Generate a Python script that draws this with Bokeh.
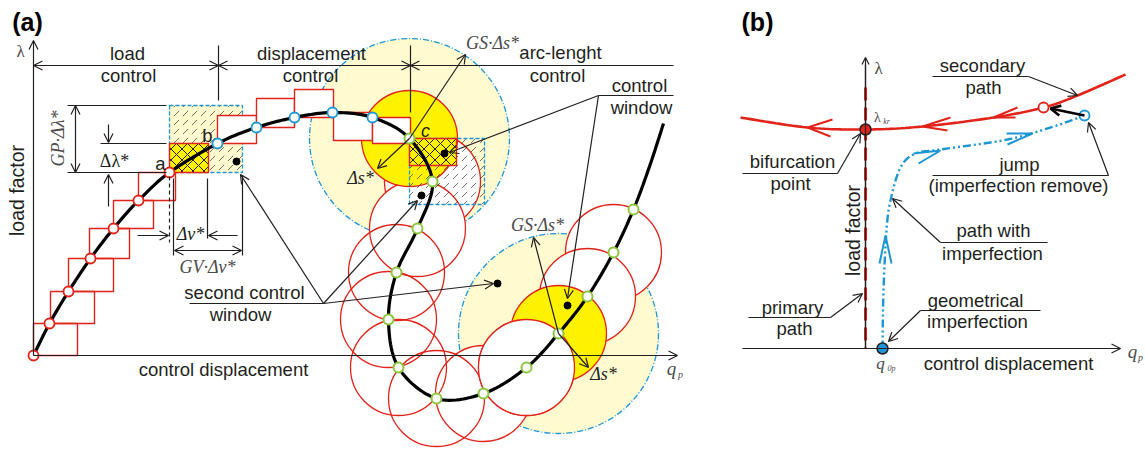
import math
from bokeh.plotting import figure
from bokeh.models import Range1d, Label, Arrow, OpenHead
from bokeh.embed import file_html
from bokeh.resources import INLINE

# ---------------- schematic data (reference pixel space) ----------------
# panel (a): equilibrium path, points of the three control strategies
load_pts_x = [33, 49, 68, 90, 113, 138, 169]
load_pts_y = [355, 323, 291, 258, 228, 200, 172]
disp_pts_x = [217, 256, 294, 332, 372]
disp_pts_y = [143, 127, 117, 112, 117]
arc_pts_x = [409, 432, 417, 396, 388, 398, 436, 483, 526, 558, 587, 613, 633]
arc_pts_y = [138, 181, 228, 272, 319, 367, 398, 393, 367, 333, 296, 252, 209]
tail_x = [649, 663]
tail_y = [166, 123]

# load-control step boxes
lbox_left = [33, 50, 68, 89, 113, 138]
lbox_right = [77, 94, 113, 129, 153, 175]
lbox_low = [355, 323, 291, 258, 228, 200]
lbox_high = [323, 291, 258, 228, 200, 172]
# displacement-control step boxes
dbox_left = [217, 256, 294, 333, 372]
dbox_right = [256, 294, 333, 372, 410]
dbox_low = [143, 127, 117, 112, 117]
dbox_high = [115, 98, 89, 140, 143]
# control windows and their cores
win_left = [169, 409]
win_right = [242, 484]
win_top = [105, 138]
win_bot = [172, 204]
core_left = [169, 409]
core_right = [208, 456]
core_top = [143, 138]
core_bot = [172, 165]
# arc-length circles
arc_radius = 48
gs_radius = 100
centre_idx = [0, 9]          # points carrying the yellow / pale circles
under_idx = [11, 10, 1]      # chain circles lying under the yellow ones
chain_idx = [2, 3, 4, 5, 6, 7, 8]
top_idx = [8]                # chain circle cutting the second yellow circle
# black dots (window centres)
dot_x = [236, 421, 444, 497, 567]
dot_y = [161, 195, 153, 283, 305]

# panel (b)
sec_x = [740, 807, 865, 922, 993, 1043, 1077, 1125]
sec_y = [117, 127, 129, 126, 117, 107, 95, 74]
imp_x = [882, 883, 886, 890, 900, 915, 940, 1007, 1053, 1084]
imp_y = [348, 290, 230, 200, 167, 153, 149, 139, 126, 115]
bif_x = [865]
bif_y = [129]
jump_from = (1084, 115)
jump_to = (1043, 107)
q0_x = [882]
q0_y = [348]

RED = "#E2231A"
YEL = "#FFF200"
PALE = "#FFFAD0"
BLUE = "#1C96D4"
GREEN = "#8CC63F"
INK = "#231F20"
GREY = "#4a4a4a"
SANS = "Liberation Sans"
SERIF = "Liberation Serif"

W, H = 1145, 449
p = figure(width=W, height=H, x_range=Range1d(0, W), y_range=Range1d(H, 0),
           output_backend="svg", toolbar_location=None, min_border=0,
           x_axis_location=None, y_axis_location=None)
p.grid.visible = False
p.outline_line_color = None


def smooth(xs, ys, n=14):
    P = [(xs[0], ys[0])] + list(zip(xs, ys)) + [(xs[-1], ys[-1])]
    ox, oy = [], []
    for i in range(1, len(P) - 2):
        p0, p1, p2, p3 = P[i - 1], P[i], P[i + 1], P[i + 2]
        for k in range(n):
            t = k / n
            t2, t3 = t * t, t * t * t
            for j, o in ((0, ox), (1, oy)):
                o.append(0.5 * (2 * p1[j] + (-p0[j] + p2[j]) * t
                                + (2 * p0[j] - 5 * p1[j] + 4 * p2[j] - p3[j]) * t2
                                + (-p0[j] + 3 * p1[j] - 3 * p2[j] + p3[j]) * t3))
    ox.append(xs[-1]); oy.append(ys[-1])
    return ox, oy


def txt(s, x, y, size=18.5, font=SANS, style="normal", align="center", angle=0, color=INK):
    p.add_layout(Label(x=x, y=y, text=s, text_font=font, text_font_size=f"{size}px",
                       text_font_style=style, text_align=align, text_baseline="middle",
                       angle=angle, text_color=color))


def arr(x0, y0, x1, y1, start=False, end=True, w=1.2, size=9, color=INK):
    p.add_layout(Arrow(x_start=x0, y_start=y0, x_end=x1, y_end=y1, line_width=w, line_color=color,
                       start=OpenHead(size=size, line_width=w, line_color=color) if start else None,
                       end=OpenHead(size=size, line_width=w, line_color=color) if end else None))


def seg(xs, ys, w=1.2, color=INK, dash="solid"):
    p.line(xs, ys, line_width=w, line_color=color, line_dash=dash)


def pick(idx):
    return [arc_pts_x[i] for i in idx], [arc_pts_y[i] for i in idx]


# ---------------- panel (a) ----------------
cx, cy = pick(centre_idx)
ux, uy = pick(under_idx)
kx, ky = pick(chain_idx)
tx, ty = pick(top_idx)
p.circle(cx, cy, radius=gs_radius, fill_color=PALE, line_color=BLUE, line_width=1.3, line_dash="6 2 1 2")
p.circle(ux, uy, radius=arc_radius, fill_color="white", line_color=RED, line_width=1.3)
p.circle(kx, ky, radius=arc_radius, fill_color="white", line_color=None)
p.circle(kx, ky, radius=arc_radius, fill_color=None, line_color=RED, line_width=1.3)
p.circle(cx, cy, radius=arc_radius, fill_color=YEL, line_color=RED, line_width=1.3)
p.circle(tx, ty, radius=arc_radius, fill_color="white", line_color=RED, line_width=1.3)

# control windows
p.quad(left=win_left[:1], right=win_right[:1], top=win_top[:1], bottom=win_bot[:1], fill_color=PALE,
       line_color=None)
p.quad(left=win_left, right=win_right, top=win_top, bottom=win_bot, fill_alpha=0,
       hatch_pattern="right_diagonal_dash", hatch_color=INK, hatch_scale=9, hatch_weight=0.8,
       hatch_alpha=0.8, line_color=BLUE, line_width=1.3, line_dash="4 2")
p.quad(left=core_left, right=core_right, top=core_top, bottom=core_bot, fill_color=YEL,
       hatch_pattern="diagonal_cross", hatch_color=INK, hatch_scale=11, hatch_weight=1.0,
       line_color=RED, line_width=1.4)

# step boxes
p.quad(left=lbox_left, right=lbox_right, top=lbox_high, bottom=lbox_low, fill_alpha=0,
       line_color=RED, line_width=1.4)
p.quad(left=dbox_left, right=dbox_right, top=dbox_high, bottom=dbox_low, fill_color="white",
       line_color=RED, line_width=1.4)

# equilibrium path
mx, my = smooth(load_pts_x + disp_pts_x + arc_pts_x + tail_x, load_pts_y + disp_pts_y + arc_pts_y + tail_y)
p.line(mx, my, line_color="black", line_width=3.2)

p.scatter(load_pts_x, load_pts_y, size=10, fill_color="white", line_color=RED, line_width=1.8)
p.scatter(disp_pts_x, disp_pts_y, size=10, fill_color="white", line_color=BLUE, line_width=1.8)
p.scatter(arc_pts_x, arc_pts_y, size=10, fill_color="white", line_color=GREEN, line_width=2)
p.scatter(dot_x, dot_y, size=7, fill_color="black", line_color="black")

# axes
arr(33, 355, 33, 40, size=9)
arr(33, 355, 677, 355, size=9)
txt("λ", 20, 51, size=17, font=SERIF, color=GREY)
txt("load factor", 16, 190, size=19.5, angle=math.pi / 2)
txt("control displacement", 223, 369)
txt("q", 671, 368, size=19, font=SERIF, style="italic", color=GREY)
txt("p", 680, 374, size=10, font=SERIF, style="italic", color=GREY)
txt("(a)", 27, 21, size=25, style="bold", color="black")

# strategy ranges
arr(33, 65, 218, 65, start=True, end=True)
arr(218, 65, 410, 65, start=True, end=True)
arr(673, 65, 410, 65)
seg([218, 218], [45, 100])
seg([410, 410], [45, 112])
txt("load", 127, 53)
txt("control", 128, 75)
txt("displacement", 311, 53)
txt("control", 310, 75)
txt("arc-lenght", 560, 52)
txt("control", 557, 75)

# load increment annotation
seg([67, 166], [105, 105])
seg([100, 166], [143, 143])
seg([67, 166], [172, 172])
arr(75, 105, 75, 172, start=True, end=True)
arr(108, 124, 108, 142)
arr(108, 206, 108, 174)
txt("GP·Δλ*", 57, 138, size=18, font=SERIF, style="italic", angle=math.pi / 2, color=GREY)
txt("Δλ*", 114, 160, size=18, font=SERIF)
txt("a", 160, 163, size=18.5)
txt("b", 207, 135, size=18.5)

# displacement increment annotation
seg([169, 169], [176, 242], dash="4 3")
seg([173, 173], [178, 255])
seg([207, 207], [178, 238])
seg([242, 242], [175, 255])
arr(137, 235, 168, 235)
arr(237, 235, 208, 235)
arr(174, 250, 241, 250, start=True, end=True)
txt("Δv*", 190, 233, size=18, font=SERIF, style="italic")
txt("GV·Δv*", 207, 266, size=18, font=SERIF, style="italic", color=GREY)

# arc-length annotations
arr(409, 138, 465, 54)
arr(409, 138, 377, 168)
txt("GS·Δs*", 492, 42, size=18, font=SERIF, style="italic", color=GREY)
txt("Δs*", 360, 177, size=18, font=SERIF, style="italic")
txt("c", 425, 130, size=18, style="italic")
arr(558, 333, 533, 237)
arr(558, 333, 588, 367)
txt("GS·Δs*", 537, 224, size=18, font=SERIF, style="italic", color=GREY)
txt("Δs*", 603, 373, size=18, font=SERIF, style="italic")

# control window labels
seg([598, 673], [95, 95])
arr(598, 95, 449, 152)
arr(598, 95, 567, 298)
txt("control", 639, 85)
txt("window", 641, 107)
seg([189, 323], [303, 303])
arr(323, 303, 240, 174)
arr(323, 303, 417, 200)
arr(323, 303, 493, 283)
txt("second control", 244, 292)
txt("window", 240, 314)

# ---------------- panel (b) ----------------
txt("(b)", 757, 21, size=25, style="bold", color="black")
seg([865, 865], [348, 64], w=1.3)
arr(865, 348, 865, 57, size=7)
arr(742, 348, 1120, 348, size=9)
p.line([865, 865], [87, 348], line_color=RED, line_width=3, line_dash="13 7")
txt("λ", 878, 68, size=17, font=SERIF, color=GREY)
txt("load factor", 852, 230, size=19.5, angle=math.pi / 2)
txt("control displacement", 1008, 363)
txt("q", 1132, 351, size=19, font=SERIF, style="italic", color=GREY)
txt("p", 1140, 357, size=10, font=SERIF, style="italic", color=GREY)

sx, sy = smooth(sec_x, sec_y)
p.line(sx, sy, line_color=RED, line_width=2.6)
ix, iy = smooth(imp_x, imp_y)
p.line(ix, iy, line_color=BLUE, line_width=2.4, line_dash="8 3 2 3 2 3")

# direction chevrons
p.multi_line([[832, 807, 830], [950, 922, 947], [1017, 993, 1015]],
             [[119, 127, 136], [117, 126, 130], [107, 117, 117]], line_color=RED, line_width=2)
p.multi_line([[913, 940, 918], [1006, 1032, 1007], [879, 885, 891]],
             [[153, 150, 163], [133, 133, 144], [263, 235, 263]], line_color=BLUE, line_width=2)

arr(jump_from[0], jump_from[1], jump_to[0] + 7, jump_to[1] + 1, w=2.6, size=10, color="black")
p.scatter(bif_x, bif_y, size=11, fill_color=RED, line_color=INK, line_width=1.5)
p.scatter([jump_to[0]], [jump_to[1]], size=10, fill_color="white", line_color=RED, line_width=1.8)
p.scatter([jump_from[0]], [jump_from[1]], size=10, fill_color="white", line_color=BLUE, line_width=1.8)
p.scatter(q0_x, q0_y, size=11, fill_color=BLUE, line_color=INK, line_width=1.5)
txt("λ", 877, 117, size=14, font=SERIF, color=GREY)
txt("kr", 886, 121, size=8, font=SERIF, style="italic", color=GREY)
txt("q", 880, 363, size=17, font=SERIF, style="italic", color=GREY)
txt("0p", 891, 368, size=8, font=SERIF, style="italic", color=GREY)

# panel (b) labels
seg([932, 1028], [76, 76])
arr(1028, 76, 1077, 95)
txt("secondary", 982, 65)
txt("path", 983, 87)
seg([742, 837], [173, 173])
arr(837, 173, 860, 133)
txt("bifurcation", 792, 161)
txt("point", 790, 183)
seg([932, 1108], [175, 175])
arr(1108, 175, 1088, 122)
txt("jump", 1019, 164)
txt("(imperfection remove)", 1018, 185)
seg([940, 1047], [242, 242])
arr(940, 242, 892, 198)
txt("path with", 993, 230)
txt("imperfection", 992, 253)
seg([748, 830], [317, 317])
arr(830, 317, 862, 293)
txt("primary", 792, 307)
txt("path", 794, 328)
seg([920, 1040], [310, 310])
arr(920, 310, 888, 341)
txt("geometrical", 975, 300)
txt("imperfection", 977, 321)

open("out.html", "w").write(file_html(p, INLINE))
